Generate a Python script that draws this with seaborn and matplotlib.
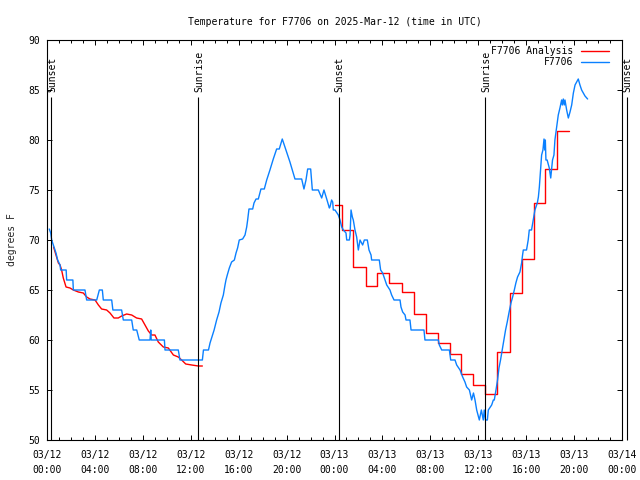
import matplotlib
matplotlib.use("Agg")
import matplotlib.pyplot as plt
import pandas as pd
import seaborn as sns
from matplotlib.ticker import MultipleLocator

# ---------------- data (hours since 03/12 00:00 UTC, degrees F) ----------------
title = "Temperature for F7706 on 2025-Mar-12 (time in UTC)"
ylabel = "degrees F"
obs_label = "F7706"
ana_label = "F7706 Analysis"

obs_hours = [0.19, 0.31, 0.39, 0.58, 0.67, 0.75, 0.89, 1.09, 1.14, 1.60, 1.64, 2.16, 2.20, 3.17,
             3.31, 4.15, 4.37, 4.62, 4.70, 5.40, 5.50, 6.23, 6.37, 7.07, 7.20, 7.49, 7.70, 8.60,
             8.66, 8.70, 9.80, 9.85, 10.96, 11.10, 12.97, 13.06, 13.48, 13.61, 13.95, 14.16,
             14.36, 14.52, 14.72, 14.86, 14.94, 15.05, 15.22, 15.41, 15.64, 15.78, 15.91, 16.05,
             16.33, 16.53, 16.67, 16.75, 16.86, 17.17, 17.28, 17.45, 17.64, 17.86, 18.14, 18.34,
             18.61, 18.89, 19.17, 19.39, 19.64, 20.00, 20.28, 20.48, 20.70, 21.26, 21.45, 21.62,
             21.76, 22.01, 22.15, 22.65, 22.93, 23.12, 23.35, 23.57, 23.62, 23.76, 23.85, 23.90,
             24.04, 24.32, 24.46, 24.60, 24.74, 24.96, 25.02, 25.24, 25.30, 25.38, 25.49, 25.57,
             25.71, 25.85, 25.99, 26.13, 26.35, 26.49, 26.74, 26.88, 27.05, 27.10, 27.74, 27.85,
             28.02, 28.22, 28.36, 28.63, 28.77, 28.97, 29.47, 29.55, 29.69, 29.89, 29.97, 30.30,
             30.39, 31.47, 31.55, 32.67, 32.75, 32.95, 33.59, 33.70, 34.06, 34.20, 34.48, 34.70,
             34.89, 35.03, 35.26, 35.45, 35.60, 35.73, 35.87, 36.09, 36.26, 36.42, 36.50, 36.60,
             36.76, 36.84, 37.12, 37.26, 37.34, 37.48, 37.61, 37.73, 37.86, 38.00, 38.14, 38.28,
             38.42, 38.56, 38.73, 38.87, 39.01, 39.14, 39.28, 39.48, 39.62, 39.70, 39.76, 40.03,
             40.17, 40.26, 40.45, 40.59, 40.73, 40.93, 41.02, 41.10, 41.29, 41.40, 41.49, 41.55,
             41.60, 41.65, 41.75, 41.93, 42.05, 42.12, 42.20, 42.32, 42.40, 42.49, 42.60, 42.68,
             42.82, 42.96, 43.02, 43.10, 43.18, 43.24, 43.38, 43.52, 43.66, 43.80, 43.94, 44.08,
             44.22, 44.35, 44.49, 44.63, 44.77, 44.91, 45.05, 45.13]
obs_temp = [71.1, 70.7, 70.0, 69.3, 69.0, 68.7, 68.0, 67.5, 67.0, 67.0, 66.0, 66.0, 65.0, 65.0,
            64.0, 64.0, 65.0, 65.0, 64.0, 64.0, 63.0, 63.0, 62.0, 62.0, 61.0, 61.0, 60.0, 60.0,
            61.0, 60.0, 60.0, 59.0, 59.0, 58.0, 58.0, 59.0, 59.0, 59.7, 61.0, 62.0,
            62.8, 63.7, 64.5, 65.5, 66.0, 66.5, 67.2, 67.8, 68.0, 68.7, 69.2, 70.0,
            70.1, 70.5, 71.3, 72.0, 73.1, 73.1, 73.7, 74.1, 74.1, 75.1, 75.1, 76.0,
            77.0, 78.1, 79.1, 79.1, 80.1, 78.8, 77.8, 77.0, 76.1, 76.1, 75.1, 76.0,
            77.1, 77.1, 75.0, 75.0, 74.2, 75.0, 74.1, 73.2, 73.3, 74.0, 73.8, 73.0,
            73.0, 72.5, 72.0, 71.3, 71.0, 70.7, 70.0, 70.0, 70.5, 73.0, 72.3, 72.0,
            71.0, 70.3, 69.0, 70.0, 69.5, 70.0, 70.0, 69.0, 68.5, 68.0, 68.0, 67.0,
            66.7, 66.0, 65.5, 65.0, 64.5, 64.0, 64.0, 63.3, 62.8, 62.5, 62.0, 62.0,
            61.0, 61.0, 60.0, 60.0, 59.5, 59.0, 59.0, 58.0, 58.0, 57.5, 57.0, 56.3,
            55.8, 55.3, 55.0, 54.0, 54.7, 54.0, 53.0, 52.0, 53.0, 52.0, 53.0, 52.0,
            52.0, 53.0, 53.5, 54.0, 54.0, 55.0, 56.0, 57.2, 58.0, 59.0, 60.0, 61.0,
            61.8, 62.7, 63.7, 64.3, 65.0, 65.7, 66.3, 66.8, 67.7, 68.5, 69.0, 69.0,
            70.0, 71.0, 71.0, 72.0, 73.0, 73.7, 74.3, 75.3, 78.5, 79.0, 80.1, 79.0,
            80.0, 78.0, 78.0, 77.2, 76.2, 77.0, 78.0, 78.5, 80.0, 80.8, 81.8, 82.5,
            83.2, 84.0, 83.5, 84.1, 83.5, 84.0, 83.0, 82.2, 82.8, 83.5, 84.7, 85.5,
            85.8, 86.1, 85.5, 85.0, 84.7, 84.4, 84.2, 84.1]

ana1_hours = [0.55, 0.75, 0.95, 1.09, 1.22, 1.36, 1.59, 1.92, 2.20, 2.62, 3.03, 3.31, 3.59, 4.01,
              4.29, 4.56, 4.98, 5.26, 5.59, 5.95, 6.23, 6.65, 7.07, 7.48, 7.90, 8.18, 8.46, 8.74,
              9.01, 9.29, 9.71, 10.13, 10.55, 10.96, 11.24, 11.58, 12.08, 12.63, 12.97]
ana1_temp = [69.3, 68.5, 67.7, 67.5, 67.0, 66.2, 65.3, 65.2, 65.0, 64.8, 64.7, 64.3, 64.1, 64.0,
             63.5, 63.1, 63.0, 62.7, 62.2, 62.2, 62.4, 62.6, 62.5, 62.2, 62.1, 61.5, 60.9, 60.5,
             60.5, 59.8, 59.3, 59.2, 58.5, 58.3, 58.0, 57.6, 57.5, 57.4, 57.4]

ana2_hours = [24.04, 24.60, 25.57, 26.60, 27.57, 28.55, 29.60, 30.64, 31.61, 32.61, 33.61, 34.56,
              35.56, 36.56, 37.60, 38.64, 39.62, 40.65, 41.60, 42.60, 43.60]
ana2_temp = [73.5, 71.0, 67.3, 65.4, 66.7, 65.7, 64.8, 62.6, 60.7, 59.7, 58.6, 56.6,
             55.5, 54.6, 58.8, 64.7, 68.1, 73.7, 77.1, 80.9, 80.9]

sun_hours = [0.35, 12.62, 24.35, 36.60, 48.38]
sun_labels = ["Sunset", "Sunrise", "Sunset", "Sunrise", "Sunset"]

xtick_hours = list(range(0, 49, 4))
xtick_labels = ["03/12\n00:00", "03/12\n04:00", "03/12\n08:00", "03/12\n12:00", "03/12\n16:00",
                "03/12\n20:00", "03/13\n00:00", "03/13\n04:00", "03/13\n08:00", "03/13\n12:00",
                "03/13\n16:00", "03/13\n20:00", "03/14\n00:00"]
ytick_vals = [50, 55, 60, 65, 70, 75, 80, 85, 90]

# ---------------- style ----------------
sns.set_theme(style="ticks")
plt.rcParams['font.family'] = ['DejaVu Sans Mono', 'DejaVu Sans']
plt.rcParams['axes.edgecolor'] = 'black'
plt.rcParams['text.color'] = 'black'
plt.rcParams['xtick.color'] = 'black'
plt.rcParams['ytick.color'] = 'black'

RED = '#ff0000'
BLUE = '#0a80ff'
FS = 7

fig = plt.figure(figsize=(6.4, 4.8), dpi=100)
ax = fig.add_axes([47 / 640, 40 / 480, 575 / 640, 400 / 480])

df_a1 = pd.DataFrame({'hour': ana1_hours, 'temp': ana1_temp})
df_a2 = pd.DataFrame({'hour': ana2_hours, 'temp': ana2_temp})
df_obs = pd.DataFrame({'hour': obs_hours, 'temp': obs_temp})

sns.lineplot(data=df_a1, x='hour', y='temp', color=RED, lw=1.0, ax=ax,
             estimator=None, sort=False)
sns.lineplot(data=df_a2, x='hour', y='temp', color=RED, lw=1.0, ax=ax,
             estimator=None, sort=False, drawstyle='steps-post')
sns.lineplot(data=df_obs, x='hour', y='temp', color=BLUE, lw=1.0, ax=ax,
             estimator=None, sort=False)

# sunrise / sunset markers
ax.vlines(sun_hours, 50, 84.3, colors='black', lw=0.8, clip_on=False, zorder=3)
for h, lab in zip(sun_hours, sun_labels):
    ax.text(h + 0.08, 84.8, lab, rotation=90, ha='center', va='bottom', fontsize=FS,
            clip_on=False)

ax.set_xlim(0, 48)
ax.set_ylim(50, 90)
ax.set_xticks(xtick_hours)
ax.set_xticklabels(xtick_labels, linespacing=1.7)
ax.xaxis.set_minor_locator(MultipleLocator(1))
ax.set_yticks(ytick_vals)
ax.set_yticklabels([str(v) for v in ytick_vals])
ax.tick_params(which='both', direction='in', top=True, right=True, width=0.7,
               labelsize=FS, color='black')
ax.tick_params(which='major', length=3.8)
ax.tick_params(which='minor', length=2.2)
ax.tick_params(axis='x', pad=7)
ax.tick_params(axis='y', pad=5)
for s in ax.spines.values():
    s.set_linewidth(0.8)
    s.set_color('black')

ax.set_xlabel('')
ax.set_ylabel(ylabel, fontsize=FS, labelpad=8)
ax.set_title(title, fontsize=FS, pad=11)

# legend (top right, text right-aligned, sample line after text)
for lab, col, yy in zip([ana_label, obs_label], [RED, BLUE], [0.9725, 0.945]):
    ax.text(0.9148, yy, lab, transform=ax.transAxes, ha='right', va='center', fontsize=FS)
    ax.plot([0.9287, 0.9774], [yy, yy], transform=ax.transAxes, color=col, lw=1.0)

fig.savefig('out.png', dpi=100)
